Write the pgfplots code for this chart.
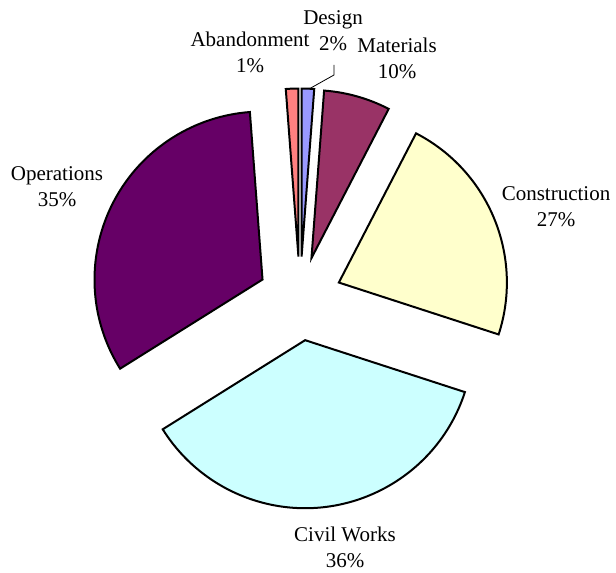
\documentclass[border=0pt]{standalone}
\usepackage{pgfplots}
\pgfplotsset{compat=1.18}
\usepackage{pgfplotstable}
\usepackage{fontspec}
\setmainfont{Liberation Serif}
\definecolor{cDesign}{HTML}{9999FF}
\definecolor{cMaterials}{HTML}{993366}
\definecolor{cConstruction}{HTML}{FFFFCC}
\definecolor{cCivil}{HTML}{CCFFFF}
\definecolor{cOperations}{HTML}{660066}
\definecolor{cAbandonment}{HTML}{FF8080}
% slice sizes (share of the circle, %), clockwise from 12 o'clock
\pgfplotstableread[col sep=comma]{
name,value,color
Design,1.2,cDesign
Materials,6.4,cMaterials
Construction,22.4,cConstruction
Civil Works,36.1,cCivil
Operations,32.7,cOperations
Abandonment,1.2,cAbandonment
}\piedata
\begin{document}
\begin{tikzpicture}
\begin{axis}[hide axis, scale only axis, width=616bp, height=573bp,
  xmin=0, xmax=616, ymin=0, ymax=573, clip=false]
\path (axis cs:0,0) rectangle (axis cs:616,573);
\pgfplotstablegetrowsof{\piedata}
\pgfmathtruncatemacro{\N}{\pgfplotsretval-1}
\def\cum{0}
\pgfplotsforeachungrouped \i in {0,...,\N}{%
  \pgfplotstablegetelem{\i}{value}\of\piedata \let\v\pgfplotsretval
  \pgfplotstablegetelem{\i}{color}\of\piedata \let\c\pgfplotsretval
  \pgfmathsetmacro{\tA}{\cum*3.6}%
  \pgfmathsetmacro{\tB}{(\cum+\v)*3.6}%
  \pgfmathsetmacro{\tM}{(\tA+\tB)/2}%
  \pgfmathsetmacro{\ax}{300+42*sin(\tM)}%
  \pgfmathsetmacro{\ay}{274.5+42*cos(\tM)}%
  \pgfmathsetmacro{\aA}{90-\tA}%
  \pgfmathsetmacro{\aB}{90-\tB}%
  \edef\temp{\noexpand\filldraw[fill=\c, draw=black, line width=2bp, line join=miter]
    (axis cs:\ax,\ay) -- ++(\aA:168bp) arc[start angle=\aA, end angle=\aB, radius=168bp] -- cycle;}%
  \temp
  \pgfmathsetmacro{\cum}{\cum+\v}%
}
\tikzset{lab/.style={align=center, font=\fontsize{21bp}{26bp}\selectfont, inner sep=0pt}}
\node[lab] at (axis cs:333,542) {Design\\2\%};
\node[lab] at (axis cs:250,520.5) {Abandonment\\1\%};
\node[lab] at (axis cs:397,514.5) {Materials\\10\%};
\node[lab] at (axis cs:57,386.5) {Operations\\35\%};
\node[lab] at (axis cs:556,366.5) {Construction\\27\%};
\node[lab] at (axis cs:345,25.5) {Civil Works\\36\%};
\draw[black, line width=0.8bp] (axis cs:334,508) -- (axis cs:334,498) -- (axis cs:309,484);
\end{axis}
\end{tikzpicture}
\end{document}
